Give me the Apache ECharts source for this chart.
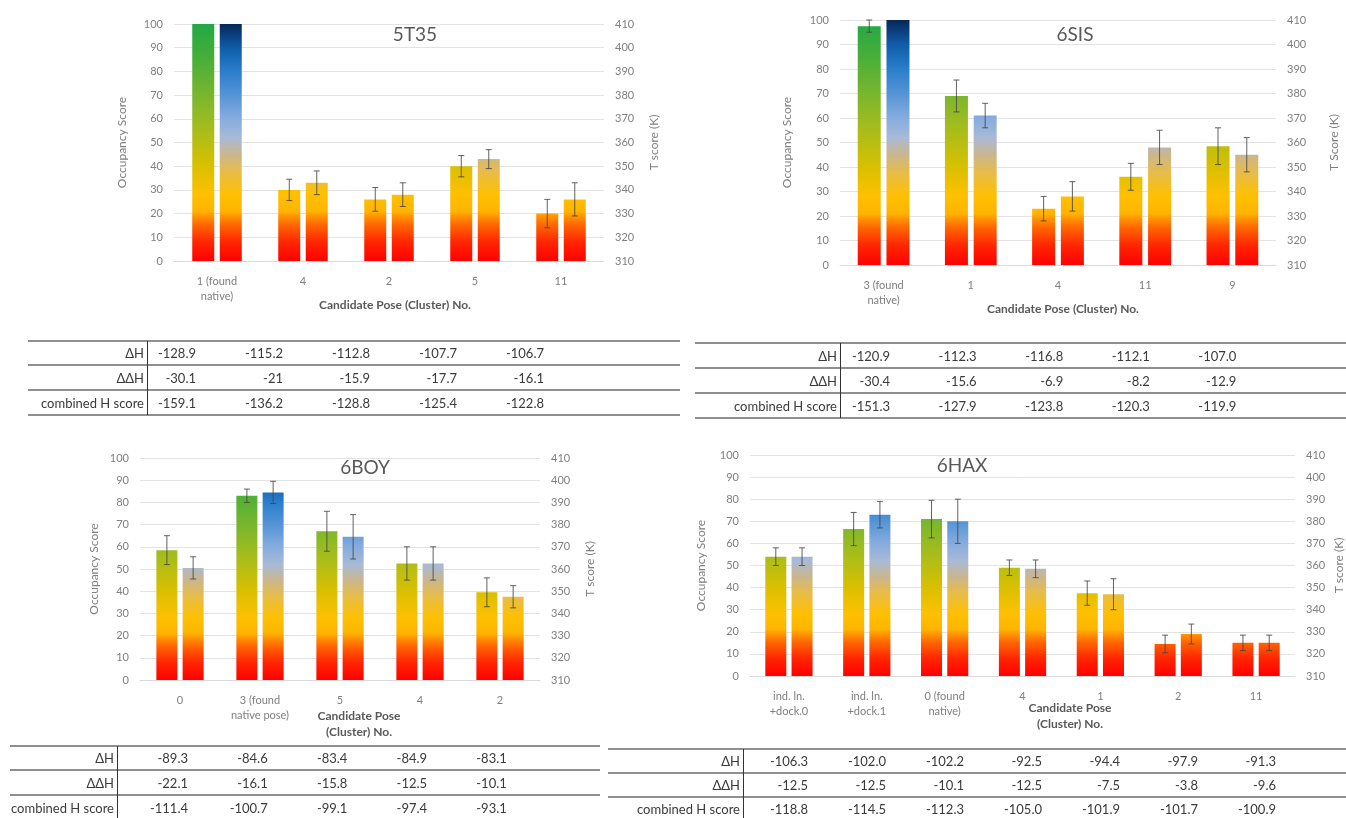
<!DOCTYPE html>
<html>
<head>
<meta charset="utf-8">
<script src="https://cdn.jsdelivr.net/npm/echarts/dist/echarts.min.js"></script>
<style>
  html, body { margin: 0; padding: 0; background: #fff; }
  #chart { position: absolute; left: 0; top: 0; width: 1346px; height: 818px; }
  .tbl { position: absolute; font-family: Lato, "Open Sans", sans-serif; font-size: 13px; color: #3a3a3a; }
  .hline { position: absolute; left: 0; right: 0; height: 0; border-top: 2px solid #8f8f8f; }
  .vline { position: absolute; width: 0; border-left: 1px solid #333; }
  .cell { position: absolute; white-space: nowrap; text-align: right; line-height: 16px; }
</style>
</head>
<body>
<div id="chart"></div>
<script>
// ---------- 5T35 ----------
const cat5T35 = ['1 (found\nnative)', '4', '2', '5', '11'];
const occ5T35 = [100, 30, 26, 40, 20];
const occErr5T35 = [0, 4.5, 5, 4.5, 6];
const tsc5T35 = [410, 343, 338, 353, 336];
const tscErr5T35 = [0, 5, 5, 4, 7];
const dH5T35 = ['-128.9', '-115.2', '-112.8', '-107.7', '-106.7'];
const ddH5T35 = ['-30.1', '-21', '-15.9', '-17.7', '-16.1'];
const comb5T35 = ['-159.1', '-136.2', '-128.8', '-125.4', '-122.8'];

// ---------- 6SIS ----------
const cat6SIS = ['3 (found\nnative)', '1', '4', '11', '9'];
const occ6SIS = [97.5, 69, 23, 36, 48.5];
const occErr6SIS = [2.5, 6.5, 5, 5.5, 7.5];
const tsc6SIS = [410, 371, 338, 358, 355];
const tscErr6SIS = [0, 5, 6, 7, 7];
const dH6SIS = ['-120.9', '-112.3', '-116.8', '-112.1', '-107.0'];
const ddH6SIS = ['-30.4', '-15.6', '-6.9', '-8.2', '-12.9'];
const comb6SIS = ['-151.3', '-127.9', '-123.8', '-120.3', '-119.9'];

// ---------- 6BOY ----------
const cat6BOY = ['0', '3 (found\nnative pose)', '5', '4', '2'];
const occ6BOY = [58.5, 83, 67, 52.5, 39.5];
const occErr6BOY = [6.5, 3, 9, 7.5, 6.5];
const tsc6BOY = [360.5, 394.5, 374.5, 362.5, 347.5];
const tscErr6BOY = [5, 5, 10, 7.5, 5];
const dH6BOY = ['-89.3', '-84.6', '-83.4', '-84.9', '-83.1'];
const ddH6BOY = ['-22.1', '-16.1', '-15.8', '-12.5', '-10.1'];
const comb6BOY = ['-111.4', '-100.7', '-99.1', '-97.4', '-93.1'];

// ---------- 6HAX ----------
const cat6HAX = ['ind. ln.\n+dock.0', 'ind. ln.\n+dock.1', '0 (found\nnative)', '4', '1', '2', '11'];
const occ6HAX = [54, 66.5, 71, 49, 37.5, 14.5, 15];
const occErr6HAX = [4, 7.5, 8.5, 3.5, 5.5, 4, 3.5];
const tsc6HAX = [364, 383, 380, 358.5, 347, 329, 325];
const tscErr6HAX = [4, 6, 10, 4, 7, 4.5, 3.5];
const dH6HAX = ['-106.3', '-102.0', '-102.2', '-92.5', '-94.4', '-97.9', '-91.3'];
const ddH6HAX = ['-12.5', '-12.5', '-10.1', '-12.5', '-7.5', '-3.8', '-9.6'];
const comb6HAX = ['-118.8', '-114.5', '-112.3', '-105.0', '-101.9', '-101.7', '-100.9'];

// axis ticks
const occTicks = { min: 0, max: 100, interval: 10 };
const tTicks = { min: 310, max: 410, interval: 10 };
const rowNames = ['\u0394H', '\u0394\u0394H', 'combined H score'];

// ---------- layout ----------
const panels = [
  { name: '5T35', cats: cat5T35, occ: occ5T35, occErr: occErr5T35, tsc: tsc5T35, tscErr: tscErr5T35,
    rows: [dH5T35, ddH5T35, comb5T35],
    grid: { left: 174, top: 24, width: 430, height: 237 }, barW: 22,
    titlePos: [415, 35], tName: 'T score (K)', gaps: [46, 44],
    xTitle: ['Candidate Pose (Cluster) No.'], xTitlePos: [395, 305],
    table: { left: 28, right: 680, top: 341, rowH: [24, 25, 25], vline: 147, firstRight: 196, step: 87 } },
  { name: '6SIS', cats: cat6SIS, occ: occ6SIS, occErr: occErr6SIS, tsc: tsc6SIS, tscErr: tscErr6SIS,
    rows: [dH6SIS, ddH6SIS, comb6SIS],
    grid: { left: 840, top: 20, width: 436, height: 245 }, barW: 23,
    titlePos: [1075, 35], tName: 'T Score (K)', gaps: [47, 52],
    xTitle: ['Candidate Pose (Cluster) No.'], xTitlePos: [1063, 309],
    table: { left: 695, right: 1346, top: 343, rowH: [25, 25, 25], vline: 840, firstRight: 890, step: 86.6 } },
  { name: '6BOY', cats: cat6BOY, occ: occ6BOY, occErr: occErr6BOY, tsc: tsc6BOY, tscErr: tscErr6BOY,
    rows: [dH6BOY, ddH6BOY, comb6BOY],
    grid: { left: 140, top: 458, width: 400, height: 222 }, barW: 21,
    titlePos: [365, 468], tName: 'T score (K)', gaps: [40, 44],
    xTitle: ['Candidate Pose', '(Cluster) No.'], xTitlePos: [359, 716],
    table: { left: 10, right: 600, top: 746, rowH: [24, 25, 25], vline: 117, firstRight: 188, step: 79.7 } },
  { name: '6HAX', cats: cat6HAX, occ: occ6HAX, occErr: occErr6HAX, tsc: tsc6HAX, tscErr: tscErr6HAX,
    rows: [dH6HAX, ddH6HAX, comb6HAX],
    grid: { left: 750, top: 455, width: 546, height: 221 }, barW: 21,
    titlePos: [962, 466], tName: 'T score (K)', gaps: [43, 38],
    xTitle: ['Candidate Pose', '(Cluster) No.'], xTitlePos: [1070, 708],
    table: { left: 608, right: 1346, top: 749, rowH: [24, 24, 24], vline: 743, firstRight: 808, step: 78 } }
];

const BAR_GAP = 0.25;
const axisGrey = '#7f7f7f';
const titleGrey = '#595959';
const FONT = 'Lato, "Open Sans", sans-serif';

// colour ramps running from the bottom (0) to the top (100) of each plot
const occStops = [
  [0.00, '#ff0000'], [0.08, '#ff2600'], [0.15, '#ff6400'], [0.19, '#ff9600'],
  [0.21, '#ffb400'], [0.28, '#ffc000'], [0.40, '#d9c000'], [0.50, '#b8be12'],
  [0.60, '#98bb22'], [0.70, '#78b62e'], [0.85, '#48af38'], [1.00, '#22a846']
];
const tStops = [
  [0.00, '#ff0000'], [0.08, '#ff2600'], [0.15, '#ff6400'], [0.19, '#ff9600'],
  [0.21, '#ffb400'], [0.28, '#ffc000'], [0.38, '#e6bc4c'], [0.45, '#cab68e'],
  [0.52, '#a8bad6'], [0.60, '#86acde'], [0.70, '#5494d6'], [0.80, '#2a7ecb'],
  [0.90, '#0f5ca8'], [1.00, '#062858']
];

function errorSeries(g, yIdx, values, errs, side, barW) {
  return {
    type: 'custom', xAxisIndex: g, yAxisIndex: yIdx, z: 10, silent: true,
    data: values.map((v, i) => [i, v, errs[i]]),
    renderItem(params, api) {
      const i = api.value(0), v = api.value(1), e = api.value(2);
      if (!e) return null;
      const hi = api.coord([i, v + e]);
      const lo = api.coord([i, v - e]);
      const x = hi[0] + side * (barW + barW * BAR_GAP) / 2;
      const cap = 3;
      const st = { stroke: 'rgba(70,70,70,0.85)', lineWidth: 1 };
      return { type: 'group', children: [
        { type: 'line', shape: { x1: x, y1: hi[1], x2: x, y2: lo[1] }, style: st },
        { type: 'line', shape: { x1: x - cap, y1: hi[1], x2: x + cap, y2: hi[1] }, style: st },
        { type: 'line', shape: { x1: x - cap, y1: lo[1], x2: x + cap, y2: lo[1] }, style: st }
      ] };
    }
  };
}

const option = { animation: false, grid: [], xAxis: [], yAxis: [], series: [], graphic: [] };

panels.forEach((p, g) => {
  option.grid.push(Object.assign({ containLabel: false }, p.grid));
  option.xAxis.push({
    type: 'category', gridIndex: g, data: p.cats,
    axisLine: { lineStyle: { color: '#d9d9d9' } }, axisTick: { show: false },
    axisLabel: { color: axisGrey, fontFamily: FONT, fontSize: 11, lineHeight: 15, margin: 13, interval: 0 }
  });
  const yCommon = {
    type: 'value', gridIndex: g, nameLocation: 'middle', nameRotate: 90,
    nameTextStyle: { color: axisGrey, fontFamily: FONT, fontSize: 12 },
    axisLine: { show: false }, axisTick: { show: false },
    axisLabel: { color: axisGrey, fontFamily: FONT, fontSize: 11, margin: 11 }
  };
  option.yAxis.push(Object.assign({}, yCommon, occTicks, {
    position: 'left', name: 'Occupancy Score', nameGap: p.gaps[0],
    splitLine: { lineStyle: { color: '#e3e3e3' } }
  }));
  option.yAxis.push(Object.assign({}, yCommon, tTicks, {
    position: 'right', name: p.tName, nameGap: p.gaps[1], splitLine: { show: false }
  }));
  option.series.push({
    id: 'occ' + g, type: 'bar', xAxisIndex: g, yAxisIndex: 2 * g, data: p.occ,
    barWidth: p.barW, barGap: (BAR_GAP * 100) + '%', itemStyle: { color: '#ffc000' }
  });
  option.series.push({
    id: 'tsc' + g, type: 'bar', xAxisIndex: g, yAxisIndex: 2 * g + 1, data: p.tsc,
    barWidth: p.barW, barGap: (BAR_GAP * 100) + '%', itemStyle: { color: '#ffc000' }
  });
  option.series.push(errorSeries(g, 2 * g, p.occ, p.occErr, -1, p.barW));
  option.series.push(errorSeries(g, 2 * g + 1, p.tsc, p.tscErr, 1, p.barW));

  option.graphic.push({
    type: 'text', x: p.titlePos[0], y: p.titlePos[1], silent: true,
    style: { text: p.name, fill: titleGrey, font: '19px ' + FONT, align: 'center', verticalAlign: 'middle' }
  });
  p.xTitle.forEach((t, k) => {
    option.graphic.push({
      type: 'text', x: p.xTitlePos[0], y: p.xTitlePos[1] + k * 16, silent: true,
      style: { text: t, fill: titleGrey, font: 'bold 12px ' + FONT, align: 'center', verticalAlign: 'middle' }
    });
  });
});

const chart = echarts.init(document.getElementById('chart'), null, { renderer: 'canvas' });
chart.setOption(option);

// bar ramps are fixed to each plot's value range, so short bars only show the lower colours
const update = [];
panels.forEach((p, g) => {
  const yBottom = chart.convertToPixel({ xAxisIndex: g, yAxisIndex: 2 * g }, [0, 0])[1];
  const yTop = chart.convertToPixel({ xAxisIndex: g, yAxisIndex: 2 * g }, [0, 100])[1];
  const mk = stops => new echarts.graphic.LinearGradient(0, yBottom, 0, yTop,
    stops.map(s => ({ offset: s[0], color: s[1] })), true);
  update.push({ id: 'occ' + g, itemStyle: { color: mk(occStops) } });
  update.push({ id: 'tsc' + g, itemStyle: { color: mk(tStops) } });
});
chart.setOption({ series: update });

// score tables under each plot
panels.forEach(p => {
  const t = p.table;
  const total = t.rowH.reduce((a, b) => a + b, 0);
  const box = document.createElement('div');
  box.className = 'tbl';
  box.style.left = t.left + 'px';
  box.style.top = t.top + 'px';
  box.style.width = (t.right - t.left) + 'px';
  box.style.height = total + 'px';
  let y = 0;
  const lineTop = document.createElement('div');
  lineTop.className = 'hline'; lineTop.style.top = '-1px';
  box.appendChild(lineTop);
  p.rows.forEach((row, r) => {
    const h = t.rowH[r];
    const lab = document.createElement('div');
    lab.className = 'cell';
    lab.textContent = rowNames[r];
    lab.style.right = (t.right - t.vline + 3) + 'px';
    lab.style.top = (y + (h - 16) / 2) + 'px';
    box.appendChild(lab);
    row.forEach((v, c) => {
      const cell = document.createElement('div');
      cell.className = 'cell';
      cell.textContent = v;
      cell.style.right = (t.right - (t.firstRight + c * t.step)) + 'px';
      cell.style.top = (y + (h - 16) / 2) + 'px';
      box.appendChild(cell);
    });
    y += h;
    const ln = document.createElement('div');
    ln.className = 'hline'; ln.style.top = (y - 1) + 'px';
    box.appendChild(ln);
  });
  const vl = document.createElement('div');
  vl.className = 'vline';
  vl.style.left = (t.vline - t.left) + 'px';
  vl.style.top = '0px';
  vl.style.height = total + 'px';
  box.appendChild(vl);
  document.body.appendChild(box);
});
</script>
</body>
</html>
